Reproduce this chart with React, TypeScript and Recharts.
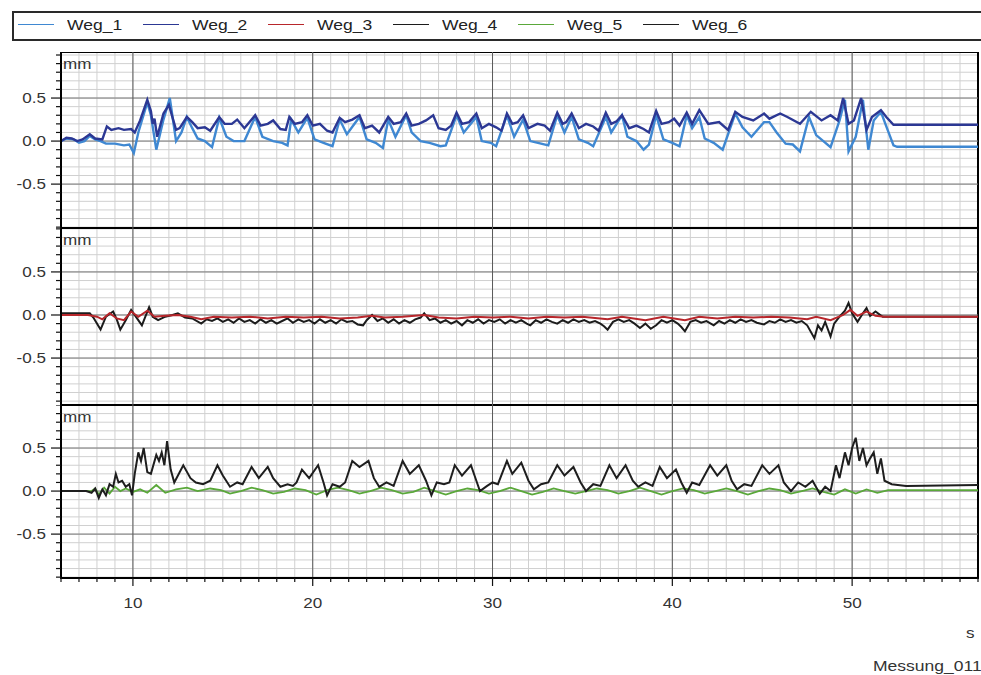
import React from "react";
import { CartesianGrid, Line, LineChart, ReferenceArea, ReferenceLine, XAxis, YAxis } from "recharts";

type Pt = [number, number];

const seriesNames = ["Weg_1", "Weg_2", "Weg_3", "Weg_4", "Weg_5", "Weg_6"];
const seriesColors = ["#3f88d2", "#2c3894", "#b8262b", "#1c1c1c", "#5aa83a", "#1e1e1e"];

const secondTicks = [
  6, 7, 8, 9, 10, 11, 12, 13, 14, 15, 16, 17, 18, 19, 20, 21, 22, 23, 24, 25, 26, 27, 28, 29, 30, 31,
  32, 33, 34, 35, 36, 37, 38, 39, 40, 41, 42, 43, 44, 45, 46, 47, 48, 49, 50, 51, 52, 53, 54, 55, 56, 57,
];
const secondLabels = [10, 20, 30, 40, 50];
const mmTicks = [
  -1.0, -0.9, -0.8, -0.7, -0.6, -0.5, -0.4, -0.3, -0.2, -0.1, 0, 0.1, 0.2, 0.3, 0.4, 0.5, 0.6, 0.7, 0.8, 0.9, 1.0,
];
const mmLabels = [-0.5, 0, 0.5];

// Weg_1 / Weg_2 (top panel)
const weg1: Pt[] = [
  [6.0, 0.0], [6.3, 0.03], [6.7, 0.02], [7.0, -0.02], [7.3, 0.0], [7.6, 0.06], [7.9, 0.02], [8.2, 0.0],
  [8.5, -0.03], [9.0, -0.03], [9.5, -0.05], [9.8, -0.04], [10.05, -0.14], [10.3, 0.1], [10.8, 0.45], [11.0, 0.3],
  [11.3, -0.1], [11.7, 0.25], [12.05, 0.5], [12.4, 0.0], [12.7, 0.1], [13.0, 0.28], [13.3, 0.15], [13.6, 0.03],
  [14.0, 0.0], [14.4, -0.07], [14.8, 0.27], [15.2, 0.05], [15.6, 0.0], [16.2, 0.0], [16.8, 0.28], [17.2, 0.05],
  [17.8, 0.0], [18.3, -0.02], [18.6, -0.05], [18.8, 0.25], [19.2, 0.1], [19.7, 0.27], [20.1, 0.02], [20.6, -0.02],
  [21.1, -0.06], [21.5, 0.25], [21.9, 0.08], [22.6, 0.28], [23.0, 0.02], [23.5, -0.02], [23.9, -0.08], [24.2, 0.25],
  [24.6, 0.05], [25.2, 0.3], [25.5, 0.1], [26.0, 0.0], [26.5, -0.02], [27.1, -0.06], [27.4, -0.05], [28.0, 0.3],
  [28.4, 0.1], [29.1, 0.28], [29.4, 0.0], [29.9, -0.02], [30.2, -0.06], [30.8, 0.3], [31.2, 0.05], [31.7, 0.25],
  [32.1, 0.0], [32.7, -0.03], [33.1, -0.05], [33.6, 0.3], [34.0, 0.1], [34.4, 0.28], [34.8, 0.02], [35.3, -0.02],
  [35.6, -0.06], [36.3, 0.28], [36.6, 0.1], [37.2, 0.3], [37.5, 0.05], [38.0, 0.0], [38.4, -0.1], [38.7, -0.04],
  [39.1, 0.3], [39.5, 0.02], [40.0, -0.02], [40.4, -0.06], [40.8, 0.3], [41.1, 0.15], [41.5, 0.28], [41.8, 0.03],
  [42.3, -0.02], [42.8, -0.1], [43.5, 0.32], [43.9, 0.16], [44.4, 0.05], [45.1, 0.22], [45.4, 0.22], [45.8, 0.1],
  [46.3, -0.03], [46.7, -0.04], [47.1, -0.12], [47.6, 0.28], [48.0, 0.07], [48.8, -0.07], [49.3, 0.24], [49.6, 0.48],
  [49.8, -0.12], [50.2, 0.05], [50.6, 0.48], [50.9, -0.1], [51.2, 0.24], [51.6, 0.34], [51.9, 0.17], [52.3, -0.05],
  [52.5, -0.066], [57.0, -0.066],
];

const weg2: Pt[] = [
  [6.0, 0.0], [6.3, 0.04], [6.6, 0.03], [6.9, 0.0], [7.2, 0.02], [7.6, 0.08], [7.9, 0.03], [8.3, 0.02],
  [8.55, 0.17], [8.8, 0.13], [9.2, 0.15], [9.5, 0.13], [9.9, 0.14], [10.1, 0.1], [10.4, 0.24], [10.8, 0.48],
  [11.0, 0.35], [11.1, 0.2], [11.2, 0.26], [11.35, 0.05], [11.7, 0.32], [12.0, 0.42], [12.4, 0.13], [12.6, 0.15],
  [13.0, 0.28], [13.3, 0.22], [13.6, 0.15], [14.0, 0.16], [14.3, 0.12], [14.8, 0.28], [15.1, 0.2], [15.5, 0.2],
  [15.8, 0.25], [16.2, 0.15], [16.8, 0.3], [17.1, 0.18], [17.5, 0.2], [17.8, 0.24], [18.2, 0.14], [18.5, 0.13],
  [18.7, 0.28], [19.0, 0.2], [19.4, 0.22], [19.7, 0.3], [20.0, 0.18], [20.4, 0.2], [20.8, 0.12], [21.1, 0.1],
  [21.5, 0.27], [21.8, 0.22], [22.2, 0.25], [22.6, 0.3], [22.9, 0.15], [23.3, 0.18], [23.7, 0.1], [24.2, 0.28],
  [24.5, 0.2], [24.9, 0.22], [25.2, 0.32], [25.5, 0.18], [25.9, 0.2], [26.3, 0.24], [26.7, 0.3], [27.0, 0.15],
  [27.4, 0.13], [27.7, 0.18], [28.0, 0.33], [28.3, 0.2], [28.7, 0.22], [29.1, 0.32], [29.4, 0.15], [29.8, 0.2],
  [30.2, 0.16], [30.5, 0.12], [30.8, 0.32], [31.1, 0.2], [31.4, 0.22], [31.7, 0.3], [32.0, 0.15], [32.5, 0.2],
  [32.9, 0.18], [33.2, 0.12], [33.6, 0.33], [33.9, 0.2], [34.1, 0.22], [34.4, 0.32], [34.8, 0.15], [35.2, 0.2],
  [35.6, 0.17], [35.9, 0.12], [36.3, 0.33], [36.6, 0.2], [36.9, 0.23], [37.2, 0.3], [37.6, 0.15], [38.0, 0.18],
  [38.4, 0.14], [38.7, 0.1], [39.1, 0.35], [39.4, 0.2], [39.8, 0.22], [40.1, 0.26], [40.4, 0.18], [40.8, 0.33],
  [41.1, 0.2], [41.5, 0.36], [42.0, 0.2], [42.6, 0.22], [43.1, 0.13], [43.5, 0.34], [43.9, 0.28], [44.5, 0.24],
  [45.1, 0.32], [45.4, 0.26], [46.0, 0.32], [46.4, 0.28], [47.1, 0.2], [47.7, 0.34], [48.3, 0.24], [48.8, 0.3],
  [49.2, 0.24], [49.5, 0.5], [49.8, 0.2], [50.1, 0.24], [50.5, 0.5], [50.8, 0.13], [51.1, 0.28], [51.6, 0.36],
  [51.9, 0.28], [52.3, 0.19], [57.0, 0.19],
];

// Weg_3 / Weg_4 (middle panel)
const weg3: Pt[] = [
  [6.0, 0.0], [7.5, 0.0], [8.0, -0.02], [8.3, -0.05], [8.7, 0.02], [9.1, -0.04], [9.5, -0.06], [9.9, 0.04],
  [10.3, -0.02], [10.8, 0.05], [11.2, -0.02], [11.8, -0.01], [12.5, 0.0], [13.2, -0.02], [13.8, -0.05], [14.5, -0.02],
  [15.5, -0.03], [16.5, -0.02], [17.5, -0.04], [18.5, -0.02], [19.5, -0.03], [20.5, -0.02], [21.5, -0.04], [22.5, -0.03],
  [23.3, -0.01], [24.0, -0.03], [25.0, -0.02], [26.2, 0.0], [27.0, -0.03], [28.0, -0.04], [29.0, -0.02], [30.0, -0.03],
  [31.0, -0.02], [32.0, -0.04], [33.0, -0.02], [34.0, -0.03], [35.0, -0.02], [36.4, -0.05], [37.2, -0.02], [38.5, -0.06],
  [39.5, -0.02], [40.7, -0.06], [41.5, -0.02], [42.5, -0.04], [43.5, -0.02], [44.5, -0.03], [45.5, -0.02], [46.5, -0.03],
  [47.5, -0.05], [48.0, -0.02], [48.8, -0.06], [49.5, 0.0], [49.9, 0.06], [50.3, -0.01], [50.8, 0.04], [51.3, -0.01],
  [51.8, -0.02], [57.0, -0.02],
];

const weg4: Pt[] = [
  [6.0, 0.02], [7.6, 0.02], [7.8, -0.03], [8.2, -0.17], [8.5, -0.02], [8.9, 0.04], [9.1, -0.05], [9.3, -0.17],
  [9.6, -0.06], [9.9, 0.06], [10.2, -0.03], [10.5, -0.12], [10.9, 0.09], [11.1, -0.02], [11.4, -0.06], [11.8, -0.02],
  [12.2, 0.0], [12.5, 0.02], [12.9, -0.03], [13.3, -0.04], [13.8, -0.1], [14.1, -0.05], [14.4, -0.07], [14.7, -0.04],
  [15.0, -0.08], [15.3, -0.05], [15.6, -0.09], [15.9, -0.04], [16.2, -0.08], [16.5, -0.06], [16.8, -0.1], [17.1, -0.05],
  [17.4, -0.09], [17.7, -0.06], [18.0, -0.1], [18.3, -0.07], [18.6, -0.04], [18.9, -0.09], [19.2, -0.05], [19.5, -0.08],
  [19.8, -0.06], [20.1, -0.1], [20.4, -0.05], [20.7, -0.09], [21.0, -0.06], [21.3, -0.1], [21.6, -0.05], [21.9, -0.08],
  [22.2, -0.07], [22.5, -0.11], [22.8, -0.12], [23.0, -0.06], [23.3, 0.0], [23.6, -0.07], [23.9, -0.04], [24.2, -0.09],
  [24.5, -0.05], [24.8, -0.1], [25.1, -0.06], [25.4, -0.09], [25.7, -0.05], [26.0, -0.03], [26.2, 0.02], [26.5, -0.06],
  [26.8, -0.04], [27.1, -0.09], [27.4, -0.06], [27.7, -0.1], [28.0, -0.07], [28.3, -0.12], [28.6, -0.06], [28.9, -0.09],
  [29.2, -0.05], [29.5, -0.1], [29.8, -0.06], [30.1, -0.08], [30.4, -0.05], [30.7, -0.1], [31.0, -0.06], [31.3, -0.09],
  [31.6, -0.06], [31.9, -0.1], [32.1, -0.12], [32.4, -0.06], [32.7, -0.09], [33.0, -0.05], [33.3, -0.08], [33.6, -0.1],
  [33.9, -0.06], [34.2, -0.09], [34.5, -0.05], [34.8, -0.08], [35.1, -0.06], [35.4, -0.09], [35.7, -0.07], [36.0, -0.1],
  [36.2, -0.13], [36.4, -0.17], [36.7, -0.08], [37.0, -0.05], [37.3, -0.08], [37.6, -0.06], [37.9, -0.1], [38.2, -0.15],
  [38.5, -0.1], [38.8, -0.16], [39.1, -0.12], [39.4, -0.06], [39.7, -0.09], [40.0, -0.06], [40.3, -0.1], [40.5, -0.14],
  [40.7, -0.19], [41.0, -0.08], [41.3, -0.06], [41.6, -0.09], [41.9, -0.07], [42.3, -0.12], [42.6, -0.07], [42.9, -0.1],
  [43.2, -0.06], [43.5, -0.09], [43.8, -0.05], [44.1, -0.08], [44.4, -0.06], [44.7, -0.09], [45.1, -0.11], [45.4, -0.07],
  [45.7, -0.09], [46.0, -0.05], [46.3, -0.08], [46.6, -0.06], [46.9, -0.09], [47.2, -0.07], [47.5, -0.12], [47.9, -0.27],
  [48.1, -0.12], [48.3, -0.18], [48.5, -0.08], [48.8, -0.25], [49.0, -0.1], [49.3, -0.02], [49.6, 0.05], [49.8, 0.14],
  [50.0, 0.02], [50.3, -0.08], [50.6, 0.02], [50.8, 0.08], [51.0, -0.01], [51.3, 0.04], [51.7, -0.02], [57.0, -0.02],
];

// Weg_5 / Weg_6 (bottom panel)
const weg5: Pt[] = [
  [6.0, 0.0], [7.7, 0.0], [7.9, 0.03], [8.1, -0.04], [8.4, 0.04], [8.7, -0.03], [9.0, 0.05], [9.3, 0.0],
  [9.6, 0.03], [10.0, -0.01], [10.4, 0.02], [10.8, -0.02], [11.3, 0.07], [11.8, -0.02], [12.4, 0.02], [13.0, 0.04],
  [13.6, 0.0], [14.3, 0.03], [14.9, 0.01], [15.4, -0.03], [16.0, 0.0], [16.6, 0.04], [17.2, 0.01], [17.8, -0.03],
  [18.4, -0.01], [19.0, 0.03], [19.6, 0.01], [20.2, -0.04], [20.8, 0.01], [21.4, 0.04], [22.0, 0.01], [22.6, -0.03],
  [23.2, 0.0], [23.8, 0.04], [24.4, 0.01], [25.0, -0.03], [25.6, -0.01], [26.2, 0.04], [26.8, 0.0], [27.4, -0.04],
  [28.0, 0.0], [28.6, 0.03], [29.2, 0.01], [29.8, -0.03], [30.4, 0.0], [31.0, 0.04], [31.6, 0.0], [32.2, -0.04],
  [32.8, -0.01], [33.4, 0.03], [34.0, 0.0], [34.6, -0.03], [35.2, 0.0], [35.8, 0.03], [36.4, 0.01], [37.0, -0.03],
  [37.6, 0.0], [38.2, 0.04], [38.8, 0.0], [39.4, -0.04], [40.0, 0.0], [40.6, 0.03], [41.2, 0.01], [41.8, -0.03],
  [42.4, 0.0], [43.0, 0.03], [43.6, 0.0], [44.2, -0.04], [44.8, 0.0], [45.4, 0.03], [46.0, 0.01], [46.6, -0.03],
  [47.2, 0.0], [47.8, 0.03], [48.4, -0.01], [49.0, -0.04], [49.6, 0.02], [50.2, -0.03], [50.8, 0.02], [51.4, -0.02],
  [52.0, 0.01], [57.0, 0.01],
];

const weg6: Pt[] = [
  [6.0, 0.0], [7.4, 0.0], [7.7, -0.02], [7.9, 0.03], [8.1, -0.08], [8.3, 0.02], [8.5, -0.05], [8.7, 0.08],
  [8.9, 0.05], [9.05, 0.2], [9.2, 0.1], [9.4, 0.12], [9.6, 0.05], [9.8, 0.08], [9.95, -0.05], [10.1, 0.2],
  [10.3, 0.45], [10.45, 0.35], [10.6, 0.5], [10.8, 0.22], [11.0, 0.2], [11.3, 0.42], [11.45, 0.35], [11.6, 0.45],
  [11.75, 0.3], [11.9, 0.58], [12.1, 0.25], [12.3, 0.1], [12.8, 0.3], [13.2, 0.15], [13.5, 0.1], [13.9, 0.08],
  [14.3, 0.12], [14.7, 0.3], [15.0, 0.18], [15.4, 0.05], [15.8, 0.1], [16.1, 0.08], [16.6, 0.28], [17.0, 0.15],
  [17.5, 0.28], [17.8, 0.15], [18.2, 0.05], [18.6, 0.08], [18.9, 0.06], [19.1, 0.1], [19.4, 0.25], [19.8, 0.15],
  [20.3, 0.3], [20.6, 0.1], [20.8, -0.05], [21.1, 0.08], [21.5, 0.05], [21.8, 0.1], [22.2, 0.35], [22.6, 0.28],
  [23.1, 0.35], [23.4, 0.15], [23.7, 0.05], [24.1, 0.1], [24.5, 0.06], [25.0, 0.35], [25.4, 0.2], [25.9, 0.3],
  [26.3, 0.12], [26.6, -0.05], [26.9, 0.1], [27.3, 0.08], [27.6, 0.1], [27.9, 0.3], [28.3, 0.18], [28.8, 0.3],
  [29.1, 0.12], [29.3, 0.0], [29.7, 0.06], [30.0, 0.1], [30.3, 0.08], [30.8, 0.35], [31.1, 0.2], [31.6, 0.33],
  [32.0, 0.12], [32.3, 0.02], [32.7, 0.08], [33.1, 0.1], [33.6, 0.3], [34.0, 0.18], [34.5, 0.28], [34.9, 0.1],
  [35.2, 0.0], [35.6, 0.08], [36.0, 0.06], [36.5, 0.3], [36.9, 0.15], [37.4, 0.3], [37.8, 0.12], [38.1, 0.05],
  [38.5, 0.1], [38.9, 0.06], [39.3, 0.28], [39.7, 0.15], [40.2, 0.25], [40.5, 0.1], [40.8, -0.02], [41.1, 0.1],
  [41.5, 0.07], [42.1, 0.3], [42.5, 0.18], [43.0, 0.3], [43.3, 0.12], [43.6, 0.02], [44.0, 0.08], [44.4, 0.06],
  [45.0, 0.3], [45.4, 0.2], [45.9, 0.3], [46.2, 0.1], [46.6, 0.0], [47.0, 0.1], [47.4, 0.05], [47.8, 0.12],
  [48.2, -0.03], [48.5, 0.05], [48.8, 0.0], [49.1, 0.3], [49.3, 0.15], [49.6, 0.45], [49.8, 0.3], [50.0, 0.5],
  [50.2, 0.62], [50.4, 0.35], [50.6, 0.5], [50.8, 0.3], [51.0, 0.38], [51.2, 0.45], [51.4, 0.2], [51.6, 0.38],
  [51.8, 0.12], [52.2, 0.08], [53.0, 0.06], [57.0, 0.07],
];

const toRows = (pts: Pt[]) => pts.map(([t, v]) => ({ t, v }));

const FONT = "'Liberation Sans', Arial, sans-serif";

function MmTick(props: any) {
  const { x, y, payload } = props;
  const major = mmLabels.includes(payload.value);
  return (
    <g>
      <line x1={x - (major ? 10 : 5)} x2={x} y1={y} y2={y} stroke="#111" strokeWidth={1.2} />
      {major && (
        <text
          transform={`translate(${x - 15},${y + 5}) scale(1.22,1)`}
          textAnchor="end"
          fontSize={14}
          fontFamily={FONT}
          fill="#333"
        >
          {payload.value.toFixed(1)}
        </text>
      )}
    </g>
  );
}

function SecondTick(props: any) {
  const { x, y, payload } = props;
  const major = secondLabels.includes(payload.value);
  return (
    <g>
      <line x1={x} x2={x} y1={y} y2={y + (major ? 8 : 4)} stroke="#111" strokeWidth={1.2} />
      {major && (
        <text
          transform={`translate(${x},${y + 30}) scale(1.22,1)`}
          textAnchor="middle"
          fontSize={14}
          fontFamily={FONT}
          fill="#333"
        >
          {payload.value}
        </text>
      )}
    </g>
  );
}

interface SeriesDef {
  idx: number;
  data: Pt[];
  width: number;
}

interface PanelProps {
  top: number;
  plotHeight: number;
  domain: [number, number];
  series: SeriesDef[];
  withAxis?: boolean;
}

function Panel({ top, plotHeight, domain, series, withAxis }: PanelProps) {
  const axisHeight = withAxis ? 40 : 0;
  return (
    <div style={{ position: "absolute", left: 0, top }}>
      <LineChart width={981} height={plotHeight + axisHeight} margin={{ top: 0, right: 3, bottom: 0, left: 0 }}>
        <CartesianGrid stroke="#d0d0d0" strokeWidth={1} />
        <XAxis
          dataKey="t"
          type="number"
          domain={[6, 57]}
          allowDataOverflow
          ticks={secondTicks}
          interval={0}
          hide={!withAxis}
          height={axisHeight}
          tickSize={0}
          tickMargin={0}
          tickLine={false}
          tick={<SecondTick />}
          axisLine={{ stroke: "#000", strokeWidth: 2 }}
        />
        <YAxis
          type="number"
          domain={domain}
          allowDataOverflow
          ticks={mmTicks}
          interval={0}
          width={61}
          tickSize={0}
          tickMargin={0}
          tickLine={false}
          tick={<MmTick />}
          axisLine={{ stroke: "#000", strokeWidth: 2 }}
        />
        {mmLabels.map((v) => (
          <ReferenceLine key={`h${v}`} y={v} stroke="#7a7a7a" strokeWidth={1} />
        ))}
        {secondLabels.map((s) => (
          <ReferenceLine key={`v${s}`} x={s} stroke="#5a5a5a" strokeWidth={1} />
        ))}
        {series.map((s) => (
          <Line
            key={seriesNames[s.idx]}
            name={seriesNames[s.idx]}
            data={toRows(s.data)}
            dataKey="v"
            type="linear"
            stroke={seriesColors[s.idx]}
            strokeWidth={s.width}
            dot={false}
            activeDot={false}
            isAnimationActive={false}
          />
        ))}
        <ReferenceArea x1={6} x2={57} y1={domain[0]} y2={domain[1]} fill="none" stroke="#000" strokeWidth={2} />
      </LineChart>
      <div
        style={{
          position: "absolute",
          left: 63,
          top: 5,
          fontSize: 14,
          lineHeight: "14px",
          fontFamily: FONT,
          color: "#333",
          transform: "scaleX(1.22)",
          transformOrigin: "left",
        }}
      >
        mm
      </div>
    </div>
  );
}

export default function App() {
  return (
    <div
      style={{
        position: "absolute",
        left: 0,
        top: 0,
        width: 981,
        height: 675,
        background: "#fff",
        overflow: "hidden",
        fontFamily: FONT,
      }}
    >
      <div
        style={{
          position: "absolute",
          left: 12,
          top: 11,
          width: 990,
          height: 26,
          border: "2px solid #2a2a2a",
        }}
      >
        {seriesNames.map((n, i) => (
          <div key={n} style={{ position: "absolute", left: 4 + 125 * i, top: 0, height: 26 }}>
            <div
              style={{
                position: "absolute",
                left: 0,
                top: 11,
                width: 36,
                height: 0,
                borderTop: `1.5px solid ${seriesColors[i]}`,
              }}
            />
            <div
              style={{
                position: "absolute",
                left: 49,
                top: 5,
                fontSize: 14,
                lineHeight: "14px",
                color: "#222",
                whiteSpace: "nowrap",
                transform: "scaleX(1.25)",
                transformOrigin: "left",
              }}
            >
              {n}
            </div>
          </div>
        ))}
      </div>

      <Panel top={52} plotHeight={176} domain={[-1.01, 1.035]} series={[{ idx: 0, data: weg1, width: 2.4 }, { idx: 1, data: weg2, width: 2.4 }]} />
      <Panel top={228} plotHeight={177} domain={[-1.045, 1.01]} series={[{ idx: 3, data: weg4, width: 2 }, { idx: 2, data: weg3, width: 2 }]} />
      <Panel top={405} plotHeight={173} domain={[-1.01, 1.0]} series={[{ idx: 4, data: weg5, width: 1.8 }, { idx: 5, data: weg6, width: 2 }]} withAxis />

      <div
        style={{
          position: "absolute",
          left: 966,
          top: 626,
          fontSize: 14,
          lineHeight: "14px",
          color: "#333",
          transform: "scaleX(1.22)",
          transformOrigin: "left",
        }}
      >
        s
      </div>
      <div
        style={{
          position: "absolute",
          left: 873,
          top: 659,
          fontSize: 14,
          lineHeight: "14px",
          color: "#333",
          whiteSpace: "nowrap",
          transform: "scaleX(1.25)",
          transformOrigin: "left",
        }}
      >
        Messung_011
      </div>
    </div>
  );
}
